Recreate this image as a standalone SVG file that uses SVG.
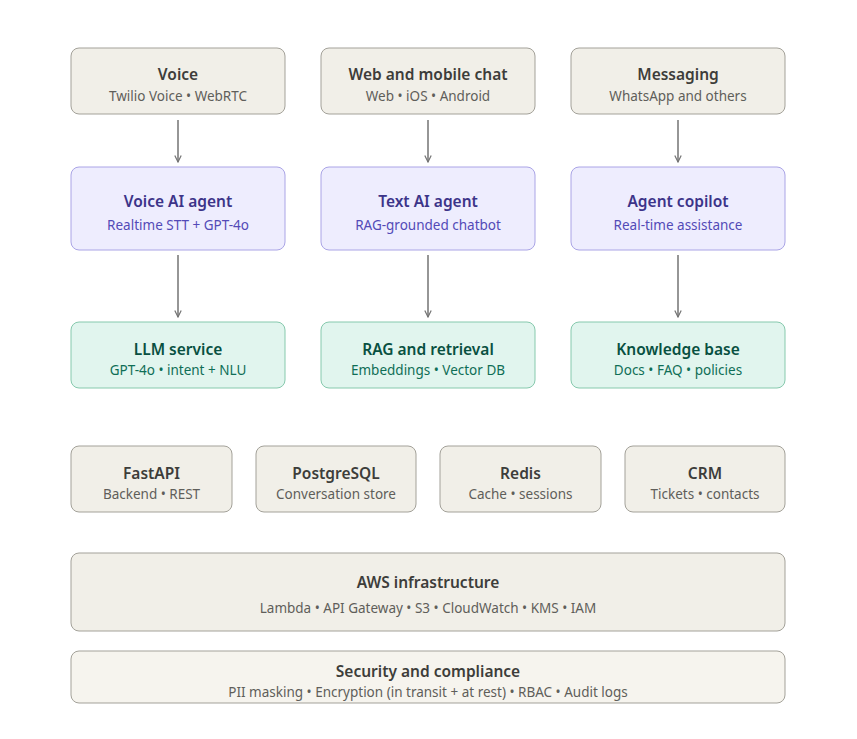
<svg xmlns="http://www.w3.org/2000/svg" width="857" height="739" viewBox="0 0 857 739">
<style>
text{font-family:"Noto Sans","Open Sans",sans-serif;text-anchor:middle}
.t{font-size:15.5px;font-weight:600}
.s{font-size:13.5px}
.n rect{fill:#f1efe8;stroke:#a3a199;stroke-width:1}
.n .t{fill:#3d3d3a}.n .s{fill:#5f5e5a}
.a rect{fill:#eeedfe;stroke:#aaa4e6}
.a .t{fill:#3c3489}.a .s{fill:#534ab7}
.g rect{fill:#e1f5ee;stroke:#86c9ad}
.g .t{fill:#085041}.g .s{fill:#0f6e56}
.l rect{fill:#f6f4ee}
.c line{stroke:#737373;stroke-width:1.5;marker-end:url(#ar)}
</style>
<defs><marker id="ar" viewBox="0 0 10 10" refX="9" refY="5" markerWidth="8" markerHeight="8" markerUnits="userSpaceOnUse" orient="auto"><path d="M1 1L9 5L1 9" fill="none" stroke="#737373" stroke-width="1.5"/></marker></defs>
<rect width="857" height="739" fill="#fff"/>
<g id="voice" class="n"><rect x="71" y="48" width="214" height="66" rx="8"/><text class="t" x="178" y="80">Voice</text><text class="s" x="178" y="101">Twilio Voice • WebRTC</text></g>
<g id="web" class="n"><rect x="321" y="48" width="214" height="66" rx="8"/><text class="t" x="428" y="80">Web and mobile chat</text><text class="s" x="428" y="101">Web • iOS • Android</text></g>
<g id="msg" class="n"><rect x="571" y="48" width="214" height="66" rx="8"/><text class="t" x="678" y="80">Messaging</text><text class="s" x="678" y="101">WhatsApp and others</text></g>
<g id="vagent" class="a"><rect x="71" y="167" width="214" height="83" rx="8"/><text class="t" x="178" y="207">Voice AI agent</text><text class="s" x="178" y="230">Realtime STT + GPT-4o</text></g>
<g id="tagent" class="a"><rect x="321" y="167" width="214" height="83" rx="8"/><text class="t" x="428" y="207">Text AI agent</text><text class="s" x="428" y="230">RAG-grounded chatbot</text></g>
<g id="copilot" class="a"><rect x="571" y="167" width="214" height="83" rx="8"/><text class="t" x="678" y="207">Agent copilot</text><text class="s" x="678" y="230">Real-time assistance</text></g>
<g id="llm" class="g"><rect x="71" y="322" width="214" height="66" rx="8"/><text class="t" x="178" y="355">LLM service</text><text class="s" x="178" y="375">GPT-4o • intent + NLU</text></g>
<g id="rag" class="g"><rect x="321" y="322" width="214" height="66" rx="8"/><text class="t" x="428" y="355">RAG and retrieval</text><text class="s" x="428" y="375">Embeddings • Vector DB</text></g>
<g id="kb" class="g"><rect x="571" y="322" width="214" height="66" rx="8"/><text class="t" x="678" y="355">Knowledge base</text><text class="s" x="678" y="375">Docs • FAQ • policies</text></g>
<g id="fastapi" class="n"><rect x="71" y="446" width="161" height="66" rx="8"/><text class="t" x="151.5" y="479">FastAPI</text><text class="s" x="151.5" y="499">Backend • REST</text></g>
<g id="pg" class="n"><rect x="256" y="446" width="160" height="66" rx="8"/><text class="t" x="336" y="479">PostgreSQL</text><text class="s" x="336" y="499">Conversation store</text></g>
<g id="redis" class="n"><rect x="440" y="446" width="161" height="66" rx="8"/><text class="t" x="520.5" y="479">Redis</text><text class="s" x="520.5" y="499">Cache • sessions</text></g>
<g id="crm" class="n"><rect x="625" y="446" width="160" height="66" rx="8"/><text class="t" x="705" y="479">CRM</text><text class="s" x="705" y="499">Tickets • contacts</text></g>
<g id="aws" class="n"><rect x="71" y="553" width="714" height="78" rx="8"/><text class="t" x="428" y="588">AWS infrastructure</text><text class="s" x="428" y="613">Lambda • API Gateway • S3 • CloudWatch • KMS • IAM</text></g>
<g id="sec" class="n l"><rect x="71" y="651" width="714" height="52" rx="8"/><text class="t" x="428" y="677">Security and compliance</text><text class="s" x="428" y="697">PII masking • Encryption (in transit + at rest) • RBAC • Audit logs</text></g>
<g id="connectors" class="c">
<line x1="178" y1="120" x2="178" y2="162"/><line x1="428" y1="120" x2="428" y2="162"/><line x1="678" y1="120" x2="678" y2="162"/>
<line x1="178" y1="255" x2="178" y2="317"/><line x1="428" y1="255" x2="428" y2="317"/><line x1="678" y1="255" x2="678" y2="317"/>
</g>
</svg>
